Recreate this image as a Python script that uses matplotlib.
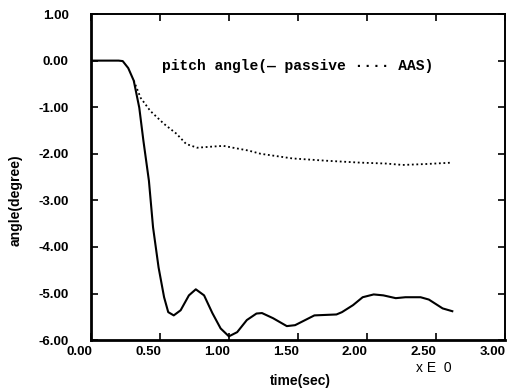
import matplotlib.pyplot as plt
import matplotlib.transforms as mtransforms

# passive (solid) pitch angle
t_passive = [0.0, 0.10, 0.20, 0.23, 0.27, 0.31, 0.35, 0.38, 0.42, 0.45, 0.49, 0.53, 0.56,
             0.60, 0.65, 0.71, 0.76, 0.82, 0.88, 0.94, 1.00, 1.06, 1.13, 1.20, 1.24, 1.32,
             1.42, 1.48, 1.62, 1.78, 1.82, 1.90, 1.97, 2.05, 2.12, 2.21, 2.28, 2.39, 2.45,
             2.55, 2.62]
a_passive = [0.0, 0.0, 0.0, -0.01, -0.16, -0.43, -1.01, -1.72, -2.58, -3.58, -4.44, -5.08, -5.40,
             -5.47, -5.36, -5.04, -4.91, -5.04, -5.42, -5.75, -5.92, -5.83, -5.57, -5.43, -5.42, -5.53,
             -5.70, -5.68, -5.47, -5.45, -5.40, -5.25, -5.08, -5.02, -5.04, -5.10, -5.08, -5.08, -5.13,
             -5.32, -5.38]

# AAS (dotted) pitch angle
t_aas = [0.31, 0.36, 0.43, 0.53, 0.62, 0.69, 0.77, 0.86, 0.96, 1.03, 1.14, 1.23, 1.46, 1.71,
         1.95, 2.14, 2.26, 2.43, 2.62]
a_aas = [-0.43, -0.80, -1.08, -1.36, -1.57, -1.79, -1.87, -1.85, -1.83, -1.87, -1.93, -2.00,
         -2.10, -2.15, -2.19, -2.21, -2.24, -2.22, -2.19]

xticks = [0.0, 0.5, 1.0, 1.5, 2.0, 2.5, 3.0]
yticks = [1.0, 0.0, -1.0, -2.0, -3.0, -4.0, -5.0, -6.0]

fig = plt.figure(figsize=(5.23, 3.9), dpi=100)
ax = fig.add_axes([0.174, 0.128, 0.791, 0.836])

ax.plot(t_passive, a_passive, color='black', lw=1.5)
ax.plot(t_aas, a_aas, color='black', lw=1.3, linestyle=(0, (1, 1.5)))

ax.set_xlim(0, 3)
ax.set_ylim(-6, 1)
ax.set_xticks(xticks)
ax.set_yticks(yticks)
ax.set_xticklabels([f'{v:.2f}' for v in xticks], fontsize=9.5, fontweight='bold',
                   family='Liberation Sans')
ax.set_yticklabels([f'{v:.2f}' for v in yticks], fontsize=9.5, fontweight='bold',
                   family='Liberation Sans')
ax.tick_params(direction='in', length=5, width=1.2, top=True, right=True)
ax.tick_params(axis='x', pad=4)
ax.tick_params(axis='y', pad=16)

# labels in the original sit a bit to the left of their ticks
shift = mtransforms.ScaledTranslation(-0.12, 0, fig.dpi_scale_trans)
for lab in ax.get_xticklabels():
    lab.set_transform(lab.get_transform() + shift)

for side in ['left', 'bottom']:
    ax.spines[side].set_linewidth(2.0)
for side in ['right', 'top']:
    ax.spines[side].set_linewidth(1.4)

ax.text(0.50, 0.841, 'pitch angle(\u2014 passive \u00b7\u00b7\u00b7\u00b7 AAS)', transform=ax.transAxes,
        ha='center', va='center', fontsize=10.5, fontweight='bold', family='Liberation Mono')

ax.set_xlabel('time(sec)', fontsize=10, fontweight='bold', family='Liberation Sans')
ax.xaxis.set_label_coords(0.505, -0.105)
ax.set_ylabel('angle(degree)', fontsize=10, fontweight='bold', family='Liberation Sans')
ax.yaxis.set_label_coords(-0.165, 0.43)
fig.text(0.83, 0.057, 'x E  0', fontsize=10, family='Liberation Sans', ha='center', va='center')

fig.savefig('out.png', dpi=100)
